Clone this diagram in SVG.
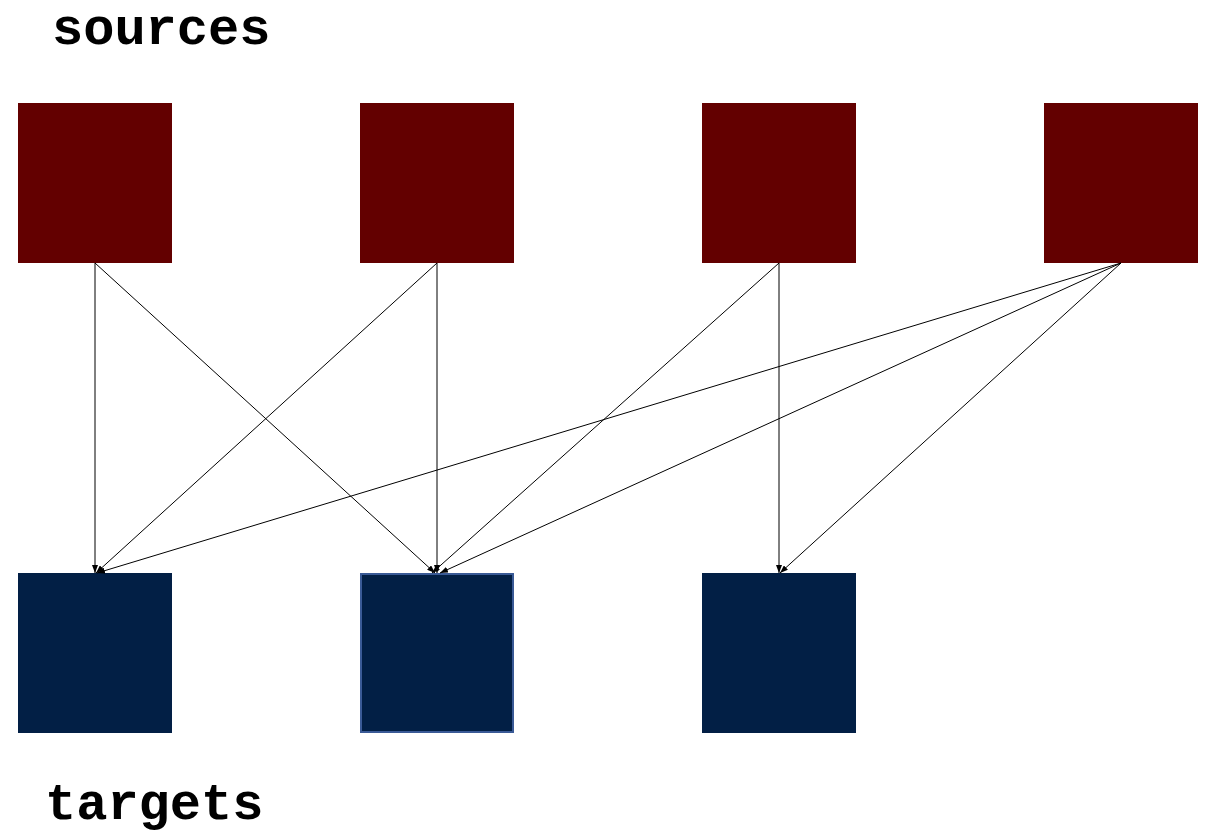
<svg xmlns="http://www.w3.org/2000/svg" width="1206" height="833" viewBox="0 0 1206 833">
<style>
.src{fill:#630000}
.tgt{fill:#021f45}
.lbl{font-family:"Liberation Mono","Courier New",monospace;font-weight:bold;font-size:52px;fill:#000}
.edge{stroke:#000;stroke-width:1;fill:none;marker-end:url(#ah)}
</style>
<defs>
<marker id="ah" markerWidth="8" markerHeight="6" refX="8" refY="3" orient="auto" markerUnits="userSpaceOnUse">
<path d="M0,0 L8,3 L0,6 z" fill="#000"/>
</marker>
</defs>
<rect width="1206" height="833" fill="#fff"/>
<text class="lbl" x="52" y="44">sources</text>
<text class="lbl" x="45" y="819">targets</text>
<g id="s1"><rect class="src" x="18" y="103" width="154" height="160"/></g>
<g id="s2"><rect class="src" x="360" y="103" width="154" height="160"/></g>
<g id="s3"><rect class="src" x="702" y="103" width="154" height="160"/></g>
<g id="s4"><rect class="src" x="1044" y="103" width="154" height="160"/></g>
<g id="t1"><rect class="tgt" x="18" y="573" width="154" height="160"/></g>
<g id="t2"><rect class="tgt" x="361" y="574" width="152" height="158" stroke="#3a5a96" stroke-width="2"/></g>
<g id="t3"><rect class="tgt" x="702" y="573" width="154" height="160"/></g>
<g id="connectors">
<line class="edge" x1="95" y1="263" x2="95" y2="573"/>
<line class="edge" x1="95" y1="263" x2="435" y2="573"/>
<line class="edge" x1="437" y1="263" x2="96" y2="573"/>
<line class="edge" x1="437" y1="263" x2="437" y2="573"/>
<line class="edge" x1="779" y1="263" x2="432" y2="573"/>
<line class="edge" x1="779" y1="263" x2="779" y2="573"/>
<line class="edge" x1="1121" y1="263" x2="97" y2="573"/>
<line class="edge" x1="1121" y1="263" x2="440" y2="573"/>
<line class="edge" x1="1121" y1="263" x2="780" y2="573"/>
</g>
</svg>
